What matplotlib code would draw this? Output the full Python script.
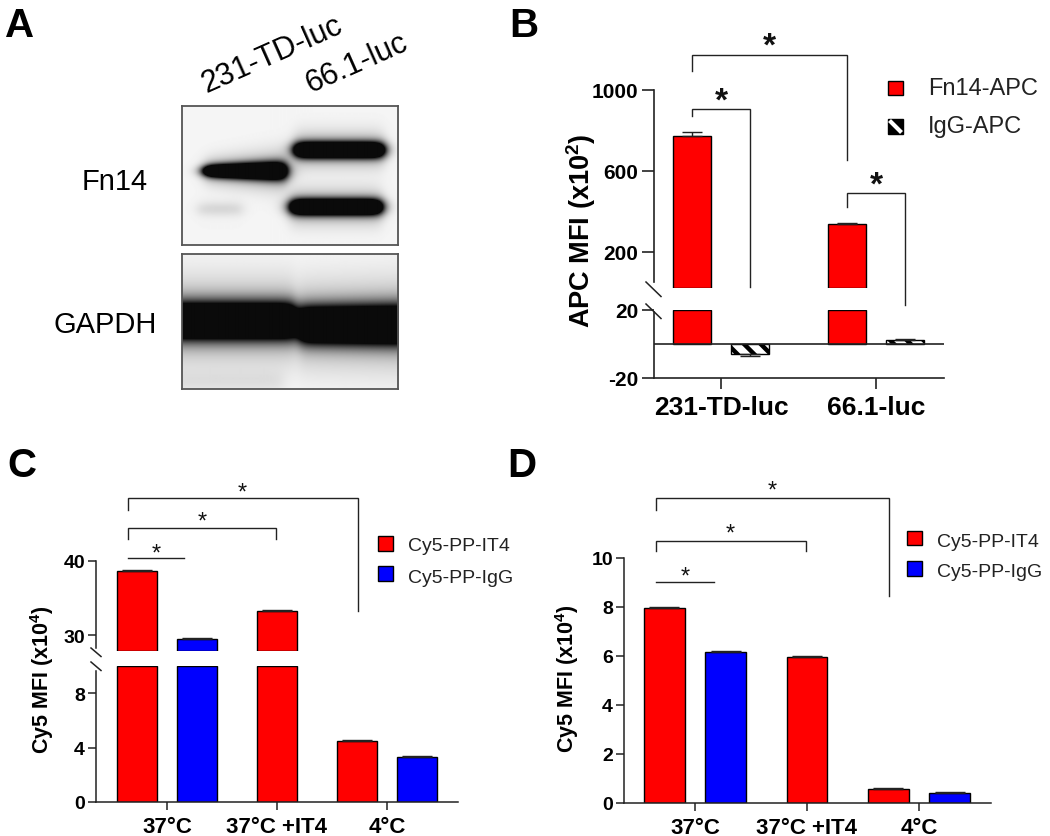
import numpy as np
import matplotlib
matplotlib.use('Agg')
import matplotlib.pyplot as plt
from matplotlib.patches import Rectangle
from matplotlib.lines import Line2D

plt.rcParams['font.family'] = ['Liberation Sans', 'DejaVu Sans']
plt.rcParams['mathtext.fontset'] = 'custom'
plt.rcParams['mathtext.rm'] = 'Liberation Sans'
plt.rcParams['mathtext.bf'] = 'Liberation Sans:bold'
plt.rcParams['hatch.linewidth'] = 3.2

# ---- panel A: western blot lanes
blot_lanes = ['231-TD-luc', '66.1-luc']
blot_rows = ['Fn14', 'GAPDH']

# ---- panel B: APC MFI (x10^2)
b_groups = ['231-TD-luc', '66.1-luc']
b_fn14 = [773, 338]
b_fn14_err = [20, 4]
b_igg = [-5.9, 2.5]
b_igg_err = [1.2, 0.4]

# ---- panels C and D: Cy5 MFI (x10^4)
temp_groups = ['37°C', '37°C +IT4', '4°C']
has_igg = [True, False, True]
c_it4 = [38.7, 33.2, 4.5]
c_it4_err = [0.15, 0.2, 0.05]
c_igg = [29.4, 3.3]
c_igg_err = [0.15, 0.05]
d_it4 = [7.96, 5.93, 0.57]
d_it4_err = [0.02, 0.04, 0.05]
d_igg = [6.17, 0.40]
d_igg_err = [0.04, 0.05]

RED = '#ff0000'
BLUE = '#0000ff'
W, H = 1050, 837

fig = plt.figure(figsize=(W / 100, H / 100), dpi=100)


def px_axes(x0, y0, x1, y1):
    return fig.add_axes([x0 / W, 1 - y1 / H, (x1 - x0) / W, (y1 - y0) / H])


ov = px_axes(0, 0, W, H)
ov.set_xlim(0, W)
ov.set_ylim(H, 0)
ov.axis('off')


def star(ax, x, y, fs, weight='normal'):
    # centre the asterisk glyph on (x, y)
    ax.annotate('*', xy=(x, y), xytext=(0, -0.57 * fs), textcoords='offset points',
                ha='center', va='baseline', fontsize=fs, fontweight=weight,
                color='#111', annotation_clip=False)


def bracket(ax, x0, x1, y, y0, y1, lw=1.0):
    ax.plot([x0, x0, x1, x1], [y0, y, y, y1], color='#222', lw=lw, clip_on=False,
            solid_joinstyle='miter')


def split_bars(ax_lo, ax_hi, x, vals, errs, width, color, hatch=None, capsize=6):
    x = np.asarray(x, float)
    vals = np.asarray(vals, float)
    errs = np.asarray(errs, float)
    lo_top = ax_lo.get_ylim()[1]
    kw = dict(color=color, edgecolor='black', linewidth=1.0, hatch=hatch, zorder=2)
    ax_lo.bar(x, np.clip(vals, None, lo_top), width, **kw)
    if ax_hi is not None:
        hi_bot = ax_hi.get_ylim()[0]
        up = vals > hi_bot
        ax_hi.bar(x[up], vals[up] - hi_bot, width, bottom=hi_bot, **kw)
    else:
        up = np.zeros(len(vals), bool)
    for xi, v, e, u in zip(x, vals, errs, up):
        tgt = ax_hi if u else ax_lo
        yerr = [[0], [e]] if v >= 0 else [[e], [0]]
        tgt.errorbar([xi], [v], yerr=yerr, fmt='none', ecolor='#222',
                     elinewidth=1.0, capsize=capsize, capthick=1.0, zorder=3)


def clean(ax, lw=1.1):
    for s in ['top', 'right']:
        ax.spines[s].set_visible(False)
    for s in ['left', 'bottom']:
        ax.spines[s].set_linewidth(lw)
        ax.spines[s].set_color('#222')
    ax.patch.set_visible(False)


# ================= panel A =================
def blot_image(bands, w, h, bg=0.04):
    X, Y = np.meshgrid(np.arange(w) + 0.5, np.arange(h) + 0.5)
    dark = np.full((h, w), bg)
    for x0, x1, yc, h0, h1, s in bands:
        t = np.clip((X - x0) / (x1 - x0), 0, 1)
        half = h0 + (h1 - h0) * t
        sx = 0.5 * (np.tanh((X - x0) / 7.0) - np.tanh((X - x1) / 7.0))
        sy = np.exp(-0.5 * ((Y - yc) / half) ** 2)
        halo = np.exp(-0.5 * ((Y - yc) / (2.2 * half)) ** 2)
        dark += s * sx * sy + 0.18 * s * sx * halo
    return 1 - np.clip(dark, 0, 0.96)


# (x0, x1, y centre, half-thickness left, right, strength) in blot pixels
fn14_bands = [(22, 104, 65, 4.0, 6.5, 1.8),
              (16, 60, 103, 5, 5, 0.10),
              (112, 201, 44, 5.5, 5.5, 1.8), (108, 199, 101, 5.5, 5.5, 1.8)]
gapdh_bands = [(-14, 113, 67, 12, 12, 1.9), (116, 230, 71, 12, 13, 1.9),
               (-14, 100, 128, 8, 8, 0.06)]

for (y0, y1), bands in zip([(107, 246), (255, 390)], [fn14_bands, gapdh_bands]):
    axb = px_axes(182, y0, 398, y1)
    w, h = 216, y1 - y0
    axb.imshow(blot_image(bands, w, h), cmap='gray', vmin=0, vmax=1, aspect='auto',
               interpolation='bilinear', extent=(0, w, h, 0))
    axb.set_xticks([])
    axb.set_yticks([])
    for s in axb.spines.values():
        s.set_color('#555')
        s.set_linewidth(1.3)

ov.text(115, 190, blot_rows[0], fontsize=21, ha='center', va='baseline')
ov.text(105, 333, blot_rows[1], fontsize=21, ha='center', va='baseline')
for (lx, ly), lab in zip([(207, 93), (311, 93)], blot_lanes):
    ov.text(lx, ly, lab, fontsize=22, rotation=24, rotation_mode='anchor',
            ha='left', va='baseline')

# ================= panel B =================
bx = np.arange(len(b_groups))
boff, bw = 0.187, 0.245
b_hi = px_axes(654, 91, 944, 289)
b_lo = px_axes(654, 311, 944, 379)
b_hi.set_ylim(22, 1000)
b_lo.set_ylim(-20, 20)
for a in (b_hi, b_lo):
    a.set_xlim(-0.432, 1.439)
    clean(a, 1.2)
split_bars(b_lo, b_hi, bx - boff, b_fn14, b_fn14_err, bw, RED, capsize=7)
split_bars(b_lo, b_hi, bx + boff, b_igg, b_igg_err, bw, 'white', hatch='\\\\', capsize=7)
b_lo.axhline(0, color='#222', lw=1.2, zorder=4)

b_hi.spines['bottom'].set_visible(False)
b_hi.spines['left'].set_bounds(51, 1000)
b_hi.set_xticks([])
b_hi.set_yticks([200, 600, 1000], ['200', '600', '1000'], fontsize=15, fontweight='bold')
b_lo.spines['left'].set_bounds(-20, 19)
b_lo.set_yticks([-20, 20], ['-20', '20'], fontsize=15, fontweight='bold')
b_lo.set_xticks(bx, b_groups, fontsize=19, fontweight='bold')
for a in (b_hi, b_lo):
    a.tick_params(axis='y', length=8.5, width=1.2, pad=3, color='#222')
    a.tick_params(axis='x', length=8, width=1.2, pad=4, color='#222')

bracket(b_hi, -boff, boff, 906, 871, 25)
star(b_hi, 0, 995, 24, 'bold')
bracket(b_hi, -boff, 1 - boff, 1173, 1094, 654)
star(b_hi, 0.313, 1267, 24, 'bold')
bracket(b_hi, 1 - boff, 1 + boff, 490, 421, -64)
star(b_hi, 1.0, 584, 24, 'bold')

for y0 in (283, 305):
    ov.add_line(Line2D([646, 661], [y0, y0 + 14.5], color='#222', lw=1.1))

ov.text(581, 231, 'APC MFI (x10$^\\mathbf{2}$)', fontsize=19.5, fontweight='bold',
        rotation=90, ha='center', va='center')

ov.add_patch(Rectangle((888, 82), 15, 14, facecolor=RED, edgecolor='black', lw=1.0))
ov.add_patch(Rectangle((888, 120), 15, 15, facecolor='black', edgecolor='black', lw=1.0))
ov.add_line(Line2D([889.5, 901.5], [121.5, 133.5], color='white', lw=3.0,
                   solid_capstyle='butt'))
ov.text(928, 95, 'Fn14-APC', fontsize=17, color='#222', va='baseline')
ov.text(928, 133, 'IgG-APC', fontsize=17, color='#222', va='baseline')

# ================= panels C and D =================
off, cw = 0.275, 0.365
gx = np.arange(len(temp_groups))
it4_x = gx - off * np.array(has_igg)
igg_x = gx[np.array(has_igg)] + off

# C (broken axis)
c_hi = px_axes(96, 562, 458, 652)
c_lo = px_axes(96, 667, 458, 803)
c_hi.set_ylim(27.84, 40)
c_lo.set_ylim(0, 10)
for a in (c_hi, c_lo):
    a.set_xlim(-0.645, 2.645)
    clean(a)
split_bars(c_lo, c_hi, it4_x, c_it4, c_it4_err, cw, RED, capsize=11)
split_bars(c_lo, c_hi, igg_x, c_igg, c_igg_err, cw, BLUE, capsize=11)
c_hi.spines['bottom'].set_visible(False)
c_hi.spines['left'].set_bounds(28.2, 40)
c_hi.set_xticks([])
c_hi.set_yticks([30, 40], ['30', '40'], fontsize=14, fontweight='bold')
c_lo.spines['left'].set_bounds(0, 9.6)
c_lo.set_yticks([0, 4, 8], ['0', '4', '8'], fontsize=14, fontweight='bold')
c_lo.set_xticks(gx, temp_groups, fontsize=16, fontweight='bold')

bracket(c_hi, -0.355, 0.155, 40.4, 40.4, 40.4)
star(c_hi, -0.1, 42.0, 17)
bracket(c_hi, -0.355, 0.99, 44.5, 43.0, 43.0)
star(c_hi, 0.32, 46.4, 17)
bracket(c_hi, -0.355, 1.74, 48.5, 46.9, 33.2)
star(c_hi, 0.68, 50.3, 17)

for y0 in (649, 663):
    ov.add_line(Line2D([91, 101], [y0, y0 + 8.5], color='#222', lw=1.1))

# D
d_ax = px_axes(624, 558.5, 991, 804)
d_ax.set_ylim(0, 10)
d_ax.set_xlim(-0.634, 2.643)
clean(d_ax)
split_bars(d_ax, None, it4_x, d_it4, d_it4_err, cw, RED, capsize=11)
split_bars(d_ax, None, igg_x, d_igg, d_igg_err, cw, BLUE, capsize=11)
d_ax.set_yticks(np.arange(0, 11, 2), [str(v) for v in range(0, 11, 2)],
                fontsize=14, fontweight='bold')
d_ax.set_xticks(gx, temp_groups, fontsize=16, fontweight='bold')

bracket(d_ax, -0.35, 0.17, 9.0, 9.0, 9.0)
star(d_ax, -0.09, 9.53, 17)
bracket(d_ax, -0.35, 0.99, 10.67, 10.26, 10.26)
star(d_ax, 0.31, 11.28, 17)
bracket(d_ax, -0.35, 1.73, 12.42, 11.93, 8.43)
star(d_ax, 0.69, 13.03, 17)

for a in (c_hi, c_lo, d_ax):
    a.tick_params(axis='y', length=6, width=1.1, pad=2, color='#222')
    a.tick_params(axis='x', length=6, width=1.1, pad=4, color='#222')

ov.text(42, 680, 'Cy5 MFI (x10$^\\mathbf{4}$)', fontsize=15.5, fontweight='bold',
        rotation=90, ha='center', va='center')
ov.text(567, 679, 'Cy5 MFI (x10$^\\mathbf{4}$)', fontsize=15.5, fontweight='bold',
        rotation=90, ha='center', va='center')

legend_spots = [((378, 537, 567), (408, 551, 583)), ((907, 531.5, 562), (937, 547, 577))]
for (sx, t1, t2), (tx, b1, b2) in legend_spots:
    ov.add_patch(Rectangle((sx, t1), 15, 14.5, facecolor=RED, edgecolor='black', lw=1.0))
    ov.add_patch(Rectangle((sx, t2), 15, 14.5, facecolor=BLUE, edgecolor='black', lw=1.0))
    ov.text(tx, b1, 'Cy5-PP-IT4', fontsize=14, color='#222', va='baseline')
    ov.text(tx, b2, 'Cy5-PP-IgG', fontsize=14, color='#222', va='baseline')

# panel letters
for lab, (lx, ly) in zip('ABCD', [(5, 37), (509, 37), (7, 477), (507, 477)]):
    ov.text(lx, ly, lab, fontsize=29, fontweight='bold', va='baseline', ha='left')

fig.savefig('out.png', dpi=100)
